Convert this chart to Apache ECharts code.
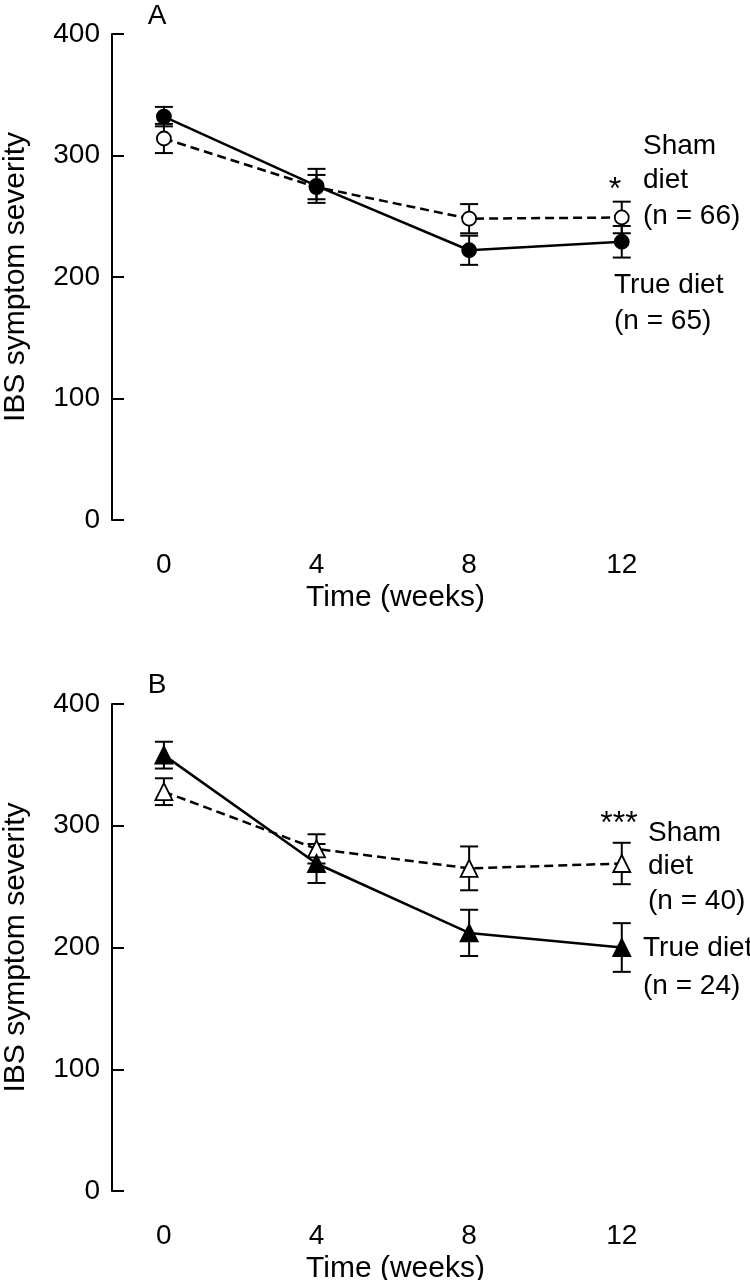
<!DOCTYPE html>
<html>
<head>
<meta charset="utf-8">
<script src="https://cdn.jsdelivr.net/npm/echarts@6/dist/echarts.min.js"></script>
<style>
  html, body { margin: 0; padding: 0; background: #fff; }
  #main { width: 750px; height: 1280px; }
</style>
</head>
<body>
<div id="main"></div>
<script>
// weeks on the x axis
var weeks = [0, 4, 8, 12];
var weekTicks = [0, 4, 8, 12];

// panel A: all patients
var trueA = [332, 275, 222, 229];
var trueAErr = [8, 14, 12, 13];
var shamA = [314, 274, 248, 249];
var shamAErr = [12, 10, 12, 13];

// panel B: subgroup
var trueB = [358, 269, 212, 200];
var trueBErr = [11, 16, 19, 20];
var shamB = [328, 281, 265, 269];
var shamBErr = [11, 12, 18, 17];

var FONT = 'Liberation Sans';

function pairs(ys) {
  return weeks.map(function (w, i) { return [w, ys[i]]; });
}
function errData(ys, es) {
  return weeks.map(function (w, i) { return [w, ys[i] - es[i], ys[i] + es[i]]; });
}

// error bar with caps
function renderErr(params, api) {
  var lo = api.coord([api.value(0), api.value(1)]);
  var hi = api.coord([api.value(0), api.value(2)]);
  var w = 9;
  var st = { stroke: '#000', lineWidth: 2 };
  return {
    type: 'group',
    children: [
      { type: 'line', shape: { x1: lo[0], y1: lo[1], x2: hi[0], y2: hi[1] }, style: st },
      { type: 'line', shape: { x1: lo[0] - w, y1: lo[1], x2: lo[0] + w, y2: lo[1] }, style: st },
      { type: 'line', shape: { x1: hi[0] - w, y1: hi[1], x2: hi[0] + w, y2: hi[1] }, style: st }
    ]
  };
}

function xAxis(idx) {
  return {
    type: 'value', gridIndex: idx, min: -1.36, max: 13.5,
    axisLine: { show: false }, axisTick: { show: false }, splitLine: { show: false },
    axisLabel: { customValues: weekTicks, color: '#000', fontSize: 28, fontFamily: FONT, margin: 31 },
    name: 'Time (weeks)', nameLocation: 'middle', nameGap: 63,
    nameTextStyle: { color: '#000', fontSize: 30, fontFamily: FONT }
  };
}
function yAxis(idx) {
  return {
    type: 'value', gridIndex: idx, min: 0, max: 400, interval: 100,
    axisLine: { show: true, onZero: false, lineStyle: { color: '#000', width: 2 } },
    axisTick: { show: true, inside: true, length: 12, lineStyle: { color: '#000', width: 2 } },
    splitLine: { show: false },
    axisLabel: { color: '#000', fontSize: 28, fontFamily: FONT, margin: 12 },
    name: 'IBS symptom severity', nameLocation: 'middle', nameRotate: 90, nameGap: 81,
    nameTextStyle: { color: '#000', fontSize: 30, fontFamily: FONT }
  };
}

function lineSeries(idx, ys, dashed, symbol, filled, size) {
  return {
    type: 'line', xAxisIndex: idx, yAxisIndex: idx, z: 3,
    data: pairs(ys), symbol: symbol, symbolSize: size, showAllSymbol: true,
    lineStyle: { color: '#000', width: 2.5, type: dashed ? [9, 5] : 'solid' },
    itemStyle: { color: filled ? '#000' : '#fff', borderColor: '#000', borderWidth: 1.8, opacity: 1 },
    emphasis: { disabled: true }
  };
}
function errSeries(idx, ys, es) {
  return {
    type: 'custom', xAxisIndex: idx, yAxisIndex: idx, z: 2,
    data: errData(ys, es), renderItem: renderErr,
    encode: { x: 0, y: [1, 2] }
  };
}

function txt(x, y, s, align, size) {
  return {
    type: 'text', x: x, y: y,
    style: { text: s, fill: '#000', fontSize: size || 28, fontFamily: FONT, align: align || 'left', verticalAlign: 'middle' }
  };
}

var chart = echarts.init(document.getElementById('main'));
chart.setOption({
  animation: false,
  backgroundColor: '#fff',
  grid: [
    { left: 112, top: 34, right: 71, height: 486, outerBoundsMode: 'none', containLabel: false },
    { left: 112, top: 704, right: 71, height: 487, outerBoundsMode: 'none', containLabel: false }
  ],
  xAxis: [xAxis(0), xAxis(1)],
  yAxis: [yAxis(0), yAxis(1)],
  series: [
    errSeries(0, trueA, trueAErr),
    errSeries(0, shamA, shamAErr),
    lineSeries(0, shamA, true, 'circle', false, 14),
    lineSeries(0, trueA, false, 'circle', true, 14),
    errSeries(1, trueB, trueBErr),
    errSeries(1, shamB, shamBErr),
    lineSeries(1, shamB, true, 'triangle', false, 17),
    lineSeries(1, trueB, false, 'triangle', true, 17)
  ],
  graphic: [
    txt(157, 16, 'A', 'center'),
    txt(615, 190, '*', 'center', 32),
    txt(643, 146, 'Sham'),
    txt(643, 180, 'diet'),
    txt(643, 216, '(n = 66)'),
    txt(614, 285, 'True diet'),
    txt(614, 321, '(n = 65)'),
    txt(157, 685, 'B', 'center'),
    txt(619, 824, '***', 'center', 32),
    txt(648, 833, 'Sham'),
    txt(648, 866, 'diet'),
    txt(648, 901, '(n = 40)'),
    txt(643, 948, 'True diet'),
    txt(643, 986, '(n = 24)')
  ]
});
</script>
</body>
</html>
